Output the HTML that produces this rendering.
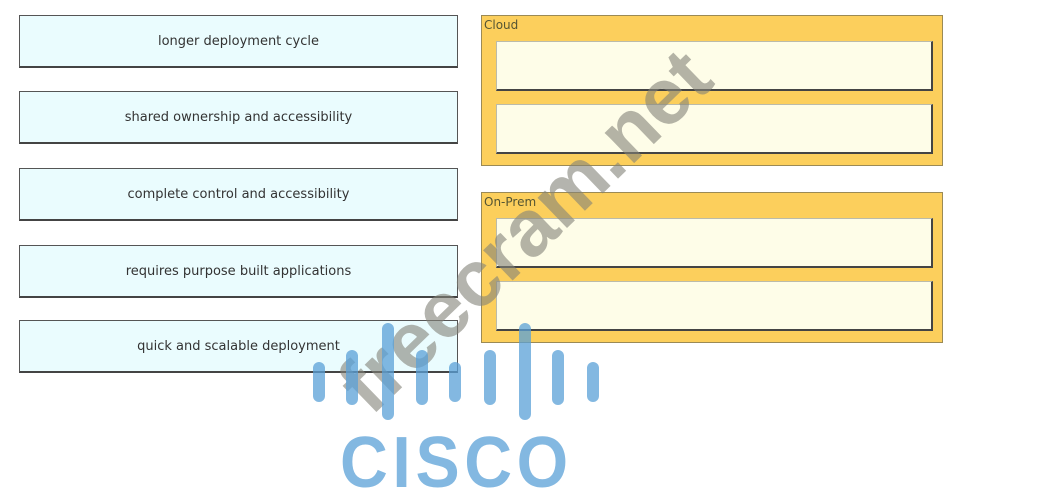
<!DOCTYPE html>
<html><head><style>
body{margin:0;width:1039px;height:473px;background:#fff;position:relative;overflow:hidden;font-family:"DejaVu Sans","Liberation Sans",sans-serif;}
.l{position:absolute;left:19px;width:437px;height:50px;background:#eafcfe;border:1px solid #555;border-bottom:2px solid #444;display:flex;align-items:center;justify-content:center;font-size:13px;color:#333;}
.g{position:absolute;left:481px;width:460px;height:149px;background:#fccf5c;border:1px solid #9b8a55;}
.g span{position:absolute;left:2px;top:2px;font-size:12px;color:#553;}
.i{position:absolute;left:14px;width:434px;height:47px;background:#fefde8;border:1px solid #bba;border-right:2px solid #444;border-bottom:2px solid #444;}
.b{position:absolute;width:12px;border-radius:6px;background:rgba(90,160,215,.75);}
</style></head><body>
<div class="l" style="top:15px">longer deployment cycle</div>
<div class="l" style="top:91px">shared ownership and accessibility</div>
<div class="l" style="top:168px">complete control and accessibility</div>
<div class="l" style="top:245px">requires purpose built applications</div>
<div class="l" style="top:320px">quick and scalable deployment</div>
<div class="g" style="top:15px"><span>Cloud</span><div class="i" style="top:25px"></div><div class="i" style="top:88px"></div></div>
<div class="g" style="top:192px"><span>On-Prem</span><div class="i" style="top:25px"></div><div class="i" style="top:88px"></div></div>
<div style="position:absolute;left:225px;top:185px;width:600px;text-align:center;transform:rotate(-44deg);font:bold 80px 'Liberation Sans',sans-serif;color:rgba(130,130,120,.6);">freecram.net</div>
<div class="b" style="left:313px;top:362px;height:40px"></div>
<div class="b" style="left:346px;top:350px;height:55px"></div>
<div class="b" style="left:382px;top:323px;height:97px"></div>
<div class="b" style="left:416px;top:350px;height:55px"></div>
<div class="b" style="left:449px;top:362px;height:40px"></div>
<div class="b" style="left:484px;top:350px;height:55px"></div>
<div class="b" style="left:519px;top:323px;height:97px"></div>
<div class="b" style="left:552px;top:350px;height:55px"></div>
<div class="b" style="left:587px;top:362px;height:40px"></div>
<div style="position:absolute;left:340px;top:422px;font:bold 72px 'Liberation Sans',sans-serif;color:rgba(90,160,215,.75);letter-spacing:5px;transform:scaleX(0.92);transform-origin:left;">CISCO</div>
</body></html>
